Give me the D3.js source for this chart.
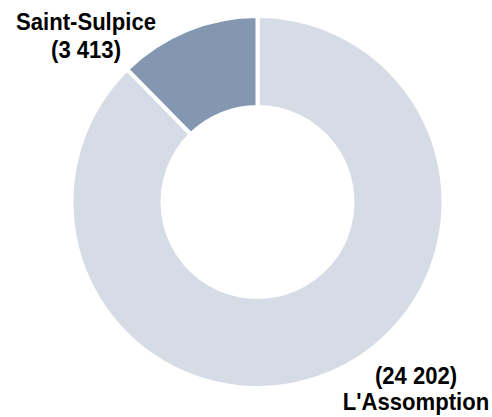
<!DOCTYPE html>
<html><head><meta charset="utf-8">
<script src="https://cdn.jsdelivr.net/npm/d3@7/dist/d3.min.js"></script>
<style>html,body{margin:0;padding:0;background:#fff;}</style>
</head><body>
<svg id="c" width="492" height="417"></svg>
<script>
const categories = ["L'Assomption", "Saint-Sulpice"];
const values = [24202, 3413];
const valueLabels = ["(24 202)", "(3 413)"];
const colors = ["#D6DCE5", "#8497B0"];

const svg = d3.select("#c");
const cx = 257.5, cy = 202;
const g = svg.append("g").attr("transform", `translate(${cx},${cy})`);
const pie = d3.pie().sort(null).value(d => d.v);
const data = categories.map((c, i) => ({c, v: values[i], l: valueLabels[i], col: colors[i]}));
const arcs = pie(data);
const arc = d3.arc().innerRadius(95).outerRadius(186);
g.selectAll("path").data(arcs).enter().append("path")
  .attr("d", arc).attr("fill", d => d.data.col)
  .attr("stroke", "#fff").attr("stroke-width", 4).attr("stroke-linejoin", "miter");

const font = "'Liberation Sans', Arial, sans-serif";
function label(x, lines, ys) {
  const t = svg.append("g").attr("transform", `translate(${x},0) scale(0.94,1)`)
    .append("text").attr("font-family", font).attr("font-weight", "bold")
    .attr("font-size", 23.5).attr("fill", "#000").attr("text-anchor", "middle");
  lines.forEach((s, i) => t.append("tspan").attr("x", 0).attr("y", ys[i]).text(s));
}
label(86, [data[1].c, data[1].l], [30, 58]);
label(416, [data[0].l, data[0].c], [384, 410]);
</script>
</body></html>
